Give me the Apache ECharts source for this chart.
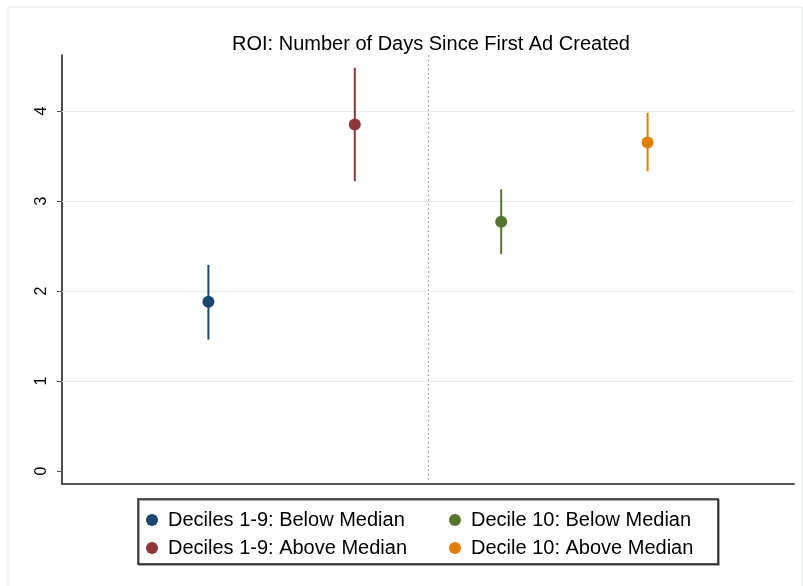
<!DOCTYPE html>
<html><head><meta charset="utf-8">
<script src="https://cdn.jsdelivr.net/npm/echarts@6/dist/echarts.min.js"></script>
<style>html,body{margin:0;padding:0;background:#fff}#c{width:803px;height:586px}</style>
</head><body><div id="c"></div>
<script>
const seriesNames = ['Deciles 1-9: Below Median','Deciles 1-9: Above Median','Decile 10: Below Median','Decile 10: Above Median'];
const xPos = [1, 2, 3, 4];
const estimates = [1.88, 3.85, 2.77, 3.65];
const lower = [1.46, 3.22, 2.41, 3.33];
const upper = [2.29, 4.48, 3.13, 3.98];
const colors = ['#1a476f', '#90353b', '#55752f', '#e37e00'];
const yTicks = [0, 1, 2, 3, 4];
const gridLines = [1, 2, 3, 4];
const divider = 2.5;

const chart = echarts.init(document.getElementById('c'));
const font = 'Liberation Sans, Arial, Helvetica, sans-serif';
const series = [];
series.push({
  type: 'line', data: [], silent: true, z: 1,
  markLine: {
    silent: true, z: 1, symbol: ['none', 'none'], label: {show: false},
    data: gridLines.map(v => ({yAxis: v, lineStyle: {color: '#e4ecee', width: 1, type: 'solid'}}))
      .concat([{xAxis: divider, lineStyle: {color: '#5a5a5a', width: 1, type: [1, 3.5]}}])
  }
});
seriesNames.forEach((name, i) => {
  series.push({
    name: name, type: 'custom', z: 6,
    itemStyle: {color: colors[i]},
    renderItem: function (params, api) {
      const p1 = api.coord([api.value(0), api.value(1)]);
      const p2 = api.coord([api.value(0), api.value(2)]);
      return {type: 'line', shape: {x1: p1[0], y1: p1[1], x2: p2[0], y2: p2[1]},
        style: {stroke: colors[i], lineWidth: 2}};
    },
    data: [[xPos[i], lower[i], upper[i]]],
    silent: true
  });
  series.push({
    name: name, type: 'scatter', z: 7, symbol: 'circle', symbolSize: 12,
    itemStyle: {color: colors[i], opacity: 1},
    data: [[xPos[i], estimates[i]]], silent: true
  });
});

const legendText = {fontFamily: font, fontSize: 20, color: '#000', padding: [0, 0, 0, 5]};
chart.setOption({
  animation: false,
  title: {text: 'ROI: Number of Days Since First Ad Created', left: 426, textAlign: 'center', top: 29,
    textStyle: {fontFamily: font, fontSize: 20, fontWeight: 'normal', color: '#000'}},
  grid: {left: 62, right: 9, top: 55, bottom: 102},
  xAxis: {type: 'value', min: 0, max: 5,
    axisLine: {show: true, onZero: false, lineStyle: {color: '#555', width: 2}},
    axisTick: {show: false}, axisLabel: {show: false}, splitLine: {show: false}},
  yAxis: {type: 'value', min: -0.144, max: 4.622,
    axisLine: {show: true, onZero: false, lineStyle: {color: '#111', width: 1.5}},
    axisTick: {show: true, length: 5, customValues: yTicks, lineStyle: {color: '#555', width: 1}},
    axisLabel: {customValues: yTicks, rotate: 90, margin: 12, color: '#000', fontSize: 16, fontFamily: font},
    splitLine: {show: false}},
  legend: [
    {data: [seriesNames[0], seriesNames[1]], orient: 'vertical', left: 141, top: 505, itemGap: 8,
     icon: 'circle', itemWidth: 12, itemHeight: 12, textStyle: legendText},
    {data: [seriesNames[2], seriesNames[3]], orient: 'vertical', left: 444, top: 505, itemGap: 8,
     icon: 'circle', itemWidth: 12, itemHeight: 12, textStyle: legendText}
  ],
  graphic: [
    {type: 'rect', shape: {x: 8, y: 7, width: 794, height: 600}, style: {fill: 'none', stroke: '#dde7e9', lineWidth: 1}, silent: true, z: -1},
    {type: 'rect', shape: {x: 138, y: 499, width: 580, height: 65},
     style: {fill: '#fff', stroke: '#222', lineWidth: 1.5, shadowColor: 'rgba(0,0,0,0.45)', shadowOffsetX: 1, shadowOffsetY: 1, shadowBlur: 0}, silent: true, z: -1}
  ],
  series: series
});
</script></body></html>
